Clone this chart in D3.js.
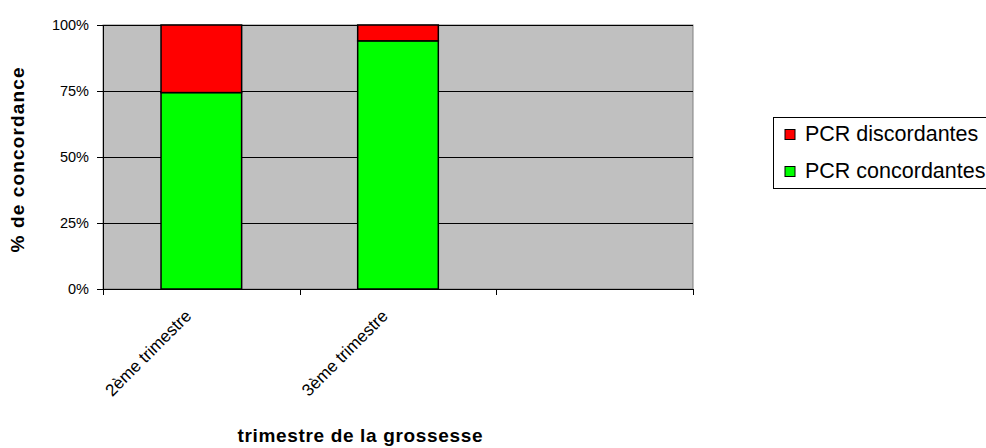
<!DOCTYPE html>
<html>
<head>
<meta charset="utf-8">
<script src="https://cdn.jsdelivr.net/npm/d3@7"></script>
<style>
  body { margin: 0; background: #fff; }
  svg { display: block; font-family: "Liberation Sans", Arial, sans-serif; }
</style>
</head>
<body>
<svg id="chart" width="986" height="448"></svg>
<script>
// data
let categories = ["2ème trimestre", "3ème trimestre", ""];
let concordantes = [74.4, 94.0, null];
let discordantes = [25.6, 6.0, null];
let yTicks = [0, 25, 50, 75, 100];
let seriesNames = ["PCR discordantes", "PCR concordantes"];
let colors = { "PCR concordantes": "#00ff00", "PCR discordantes": "#ff0000" };

let rows = categories.map((c, i) => ({
  cat: c,
  "PCR concordantes": concordantes[i],
  "PCR discordantes": discordantes[i]
}));

let svg = d3.select("#chart");

let plotLeft = 103, plotRight = 693, plotTop = 25, plotBottom = 289;

let xScale = d3.scaleBand()
  .domain(categories)
  .range([plotLeft, plotRight])
  .paddingInner(0.59)
  .paddingOuter(0.295);

let yScale = d3.scaleLinear()
  .domain([0, 100])
  .range([plotBottom, plotTop]);

// plot background
svg.append("rect")
  .attr("x", plotLeft).attr("y", plotTop)
  .attr("width", plotRight - plotLeft).attr("height", plotBottom - plotTop)
  .attr("fill", "#c0c0c0")
  .attr("stroke", "#808080")
  .attr("stroke-width", 1);

// gridlines
svg.append("g")
  .selectAll("line")
  .data(yTicks.filter(d => d > 0))
  .join("line")
  .attr("x1", plotLeft).attr("x2", plotRight)
  .attr("y1", d => Math.round(yScale(d)) + 0.5)
  .attr("y2", d => Math.round(yScale(d)) + 0.5)
  .attr("stroke", "#000")
  .attr("stroke-width", 1);

// stacked bars
let stack = d3.stack().keys(["PCR concordantes", "PCR discordantes"]);
let stacked = stack(rows.filter(r => r["PCR concordantes"] != null));

svg.append("g")
  .selectAll("g")
  .data(stacked)
  .join("g")
  .attr("fill", d => colors[d.key])
  .selectAll("rect")
  .data(d => d)
  .join("rect")
  .attr("x", d => xScale(d.data.cat))
  .attr("y", d => yScale(d[1]))
  .attr("width", xScale.bandwidth())
  .attr("height", d => yScale(d[0]) - yScale(d[1]))
  .attr("stroke", "#000")
  .attr("stroke-width", 1.5);

// y axis
let yAxis = svg.append("g")
  .attr("transform", `translate(${plotLeft},0)`)
  .call(d3.axisLeft(yScale)
    .tickValues(yTicks)
    .tickFormat(d => d + "%")
    .tickSize(6)
    .tickSizeOuter(0)
    .tickPadding(8));
yAxis.select(".domain").attr("stroke", "#000");
yAxis.selectAll("text").style("font-size", "14.5px").attr("fill", "#000");

// x axis: ticks at category boundaries
let bounds = d3.range(categories.length + 1).map(i => plotLeft + i * xScale.step());
svg.append("line")
  .attr("x1", plotLeft).attr("x2", plotRight)
  .attr("y1", plotBottom + 0.5).attr("y2", plotBottom + 0.5)
  .attr("stroke", "#000");
svg.append("g")
  .selectAll("line")
  .data(bounds)
  .join("line")
  .attr("x1", d => Math.round(d) + 0.5).attr("x2", d => Math.round(d) + 0.5)
  .attr("y1", plotBottom).attr("y2", plotBottom + 6)
  .attr("stroke", "#000");

svg.append("g")
  .selectAll("text")
  .data(categories.filter(c => c !== ""))
  .join("text")
  .attr("transform", d => `translate(${xScale(d) + xScale.bandwidth() / 2 - 9},${plotBottom + 28}) rotate(-45)`)
  .attr("text-anchor", "end")
  .style("font-size", "17px")
  .attr("fill", "#000")
  .text(d => d);

// axis titles
svg.append("text")
  .attr("x", 360).attr("y", 442)
  .attr("text-anchor", "middle")
  .style("font-size", "19px")
  .style("font-weight", "bold")
  .attr("textLength", 245)
  .attr("lengthAdjust", "spacing")
  .text("trimestre de la grossesse");

svg.append("text")
  .attr("transform", "translate(24,160) rotate(-90)")
  .attr("text-anchor", "middle")
  .style("font-size", "19px")
  .style("font-weight", "bold")
  .attr("textLength", 185)
  .attr("lengthAdjust", "spacing")
  .text("% de concordance");

// legend
svg.append("rect")
  .attr("x", 773.5).attr("y", 117.5)
  .attr("width", 240).attr("height", 71)
  .attr("fill", "#fff")
  .attr("stroke", "#000");

let legend = svg.append("g")
  .selectAll("g")
  .data(seriesNames)
  .join("g")
  .attr("transform", (d, i) => `translate(785,${129.5 + i * 37})`);

legend.append("rect")
  .attr("width", 10).attr("height", 10)
  .attr("fill", d => colors[d])
  .attr("stroke", "#000");

legend.append("text")
  .attr("x", 20).attr("y", 11)
  .style("font-size", "21.5px")
  .attr("fill", "#000")
  .text(d => d);
</script>
</body>
</html>
